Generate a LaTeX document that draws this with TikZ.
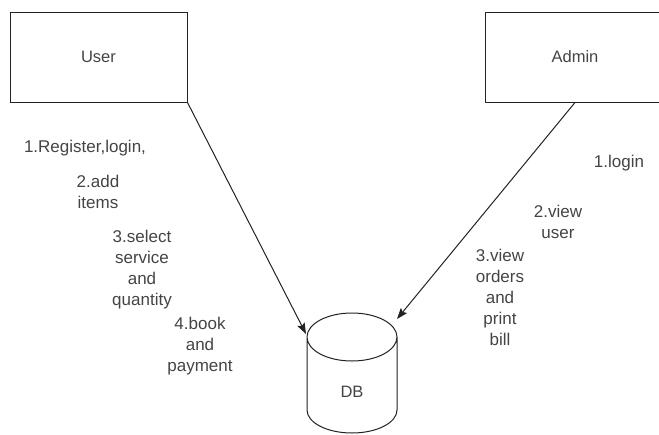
\documentclass[tikz,border=0pt]{standalone}
\usepackage{fontspec}
\setmainfont{Liberation Sans}
\usetikzlibrary{arrows.meta}
\definecolor{txt}{HTML}{444444}
\definecolor{ln}{HTML}{222222}
\begin{document}
\begin{tikzpicture}[x=1pt,y=-1pt,
  box/.style={draw=ln,line width=1pt,minimum width=177pt,minimum height=90pt,inner sep=0pt,font=\fontsize{16.5}{20}\selectfont,text=txt},
  lbl/.style={align=center,text=txt,font=\fontsize{17}{21}\selectfont,inner sep=0pt},
  conn/.style={draw=ln,line width=1pt,-{Stealth[length=11pt,width=8pt,inset=2pt]}}]
\useasboundingbox (0,0) rectangle (659,434);
\clip (0,0) rectangle (659,434);
\node[box] (user) at (98.5,57) {User};
\node[box,minimum width=180pt] (admin) at (575,57) {Admin};
% cylinder
\draw[ln,line width=1pt] (307,337) arc[start angle=180,end angle=360,x radius=45pt,y radius=24pt]
  arc[start angle=0,end angle=180,x radius=45pt,y radius=24pt] -- (307,410)
  arc[start angle=180,end angle=360,x radius=45pt,y radius=23pt] -- (397,337);
\node[text=txt,font=\fontsize{16.5}{20}\selectfont] (db) at (352,392) {DB};
\coordinate (dbl) at (306,334);
\coordinate (dbr) at (397,319);
\draw[conn] (user.south east) -- (dbl);
\draw[conn] (admin.south) -- (dbr);
\node[lbl] (u1) at (85,148) {1.Register,login,};
\node[lbl,anchor=north] (u2) at (98,175) {2.add\\items};
\node[lbl,anchor=north] (u3) at (142,230) {3.select\\service\\and\\quantity};
\node[lbl,anchor=north] (u4) at (200,317) {4.book\\and\\payment};
\node[lbl] (a1) at (619,163) {1.login};
\node[lbl,anchor=north] (a2) at (558,205) {2.view\\user};
\node[lbl,anchor=north] (a3) at (500,249) {3.view\\orders\\and\\print\\bill};
\end{tikzpicture}
\end{document}
